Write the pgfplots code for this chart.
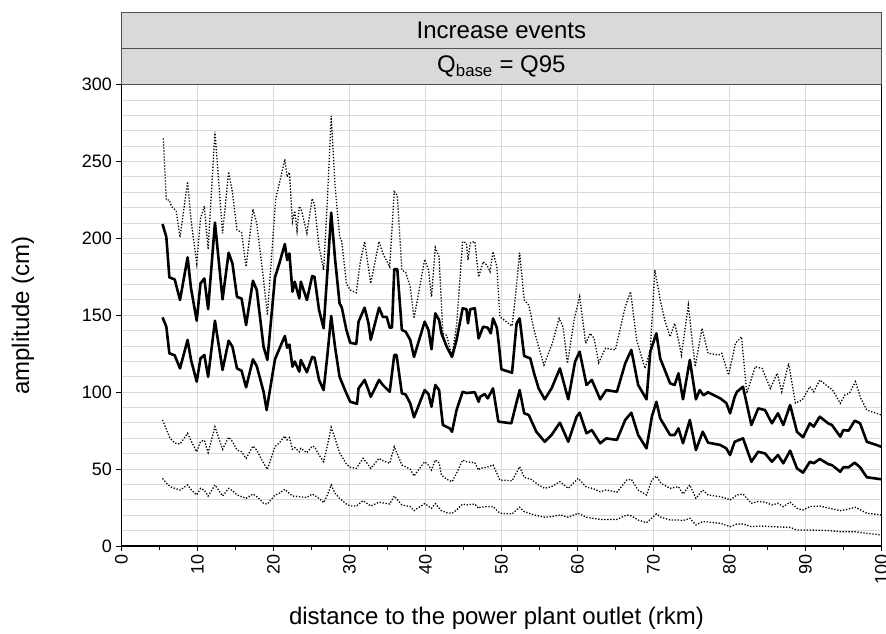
\documentclass[border=0pt]{standalone}
\usepackage{pgfplots}
\pgfplotsset{compat=1.18}
\usepackage{fontspec}
\setmainfont{Liberation Sans}
\definecolor{stripfill}{HTML}{D9D9D9}
\definecolor{stripdraw}{HTML}{505050}
\definecolor{gridc}{HTML}{D9D9D9}
\tikzset{solidser/.style={black, line width=2.6pt, line join=round},
  dotser/.style={black, line width=1.3pt, dash pattern=on 1.3pt off 1.7pt}}
\begin{document}
\begin{tikzpicture}
\begin{axis}[
  width=759.8pt, height=461.3pt, scale only axis,
  xmin=0, xmax=100, ymin=0, ymax=300,
  xtick={0,10,...,100}, minor x tick num=1,
  ytick={0,50,...,300}, minor ytick={10,20,...,290},
  xmajorgrids, ymajorgrids, yminorgrids,
  grid style={gridc, line width=1pt},
  minor y tick style={draw=none},
  tick align=outside, tick pos=left,
  major tick length=5pt, minor tick length=3.5pt,
  tick style={black, line width=0.8pt},
  axis line style={black, line width=1.2pt},
  /pgf/number format/assume math mode=true,
  ticklabel style={font=\fontsize{18}{20}\selectfont},
  yticklabel style={xshift=-1pt},
  xticklabel style={rotate=90, anchor=east},
  xlabel={distance to the power plant outlet (rkm)},
  ylabel={amplitude (cm)},
  label style={font=\fontsize{24}{28}\selectfont},
  xlabel style={at={(axis description cs:0.4935,-0.156)}, anchor=center},
  ylabel style={at={(axis description cs:-0.1296,0.5)}, anchor=center},
]
% upper solid
\addplot[solidser] coordinates {(5.4,209.4)(5.9,201)(6.3,174.7)(7.0,173.4)(7.7,160)(8.7,187.7)(9.15,167.6)(9.9,146.5)(10.4,170.8)(10.9,174)(11.4,154)(12.3,210.3)(13.3,160.4)(14.1,190.7)(14.6,183.8)(15.2,162)(15.8,161)(16.4,143.7)(17.3,172.5)(17.8,166.5)(18.7,129.6)(19.2,121)(20.2,174.7)(20.8,184.2)(21.5,196.4)(21.8,186)(22.1,190.3)(22.5,165.4)(22.8,171.9)(23.4,161)(23.6,171.9)(24.4,160)(25.1,175.6)(25.4,175)(26.0,153.5)(26.6,141.6)(27.1,178.4)(27.6,216.8)(28.1,187)(28.7,157.8)(29.0,155)(29.6,140.5)(30.1,132.2)(30.9,131.4)(31.2,145.9)(32.0,155)(32.5,145)(32.8,134)(33.9,155)(34.4,149)(34.9,149)(35.3,142)(35.6,142)(35.9,180)(36.3,180)(36.9,140.5)(37.4,139.4)(38.0,134)(38.5,123)(39.9,145.9)(40.4,140.5)(40.8,128)(41.3,151.3)(41.8,147)(42.1,138.5)(42.8,129.6)(43.5,123)(44.1,134)(44.9,154.6)(45.4,154)(45.6,144.8)(45.9,154)(46.5,154.6)(47.0,135)(47.6,142.6)(48.2,142)(48.6,138.3)(48.9,148)(49.4,142)(49.6,134)(50.0,114.9)(51.4,112.7)(52.0,144.8)(52.4,148)(53.0,123.6)(53.8,122)(54.3,112.3)(54.9,102.5)(55.7,95.4)(56.6,102.5)(57.7,115.5)(58.8,95.4)(59.7,119.9)(60.3,126.4)(61.2,104.7)(61.9,108)(63.0,95.4)(63.8,101.4)(65.2,100.3)(66.3,118.8)(67.1,127.5)(68.0,104.7)(69.1,95.4)(69.6,126.4)(70.4,138.3)(70.9,122)(72.2,105.8)(72.8,104.7)(73.3,112.3)(73.9,95.4)(74.8,121)(75.6,95.4)(76.1,101.4)(76.6,98)(77.2,100)(78.8,96)(79.6,93)(80.1,86.3)(80.7,97)(81.0,100.3)(81.8,103.6)(82.9,78.7)(83.8,89.5)(84.7,88.4)(85.6,79.8)(86.4,86.3)(87.1,78.7)(88.0,91.7)(88.9,74.3)(89.7,70.7)(90.6,79.8)(91.1,77.6)(91.9,84.1)(93.0,79.8)(93.5,78.7)(94.6,71.1)(95.0,75.4)(95.7,75)(96.5,81.5)(97.2,79.8)(98.1,67.8)(100,64.6)};
% lower solid
\addplot[solidser] coordinates {(5.4,148.7)(5.9,142.6)(6.3,125.3)(7.0,124)(7.7,115.5)(8.7,134)(9.15,121)(9.9,106.9)(10.4,122)(10.9,124.2)(11.4,110)(12.3,146.5)(13.3,114.5)(14.1,133.5)(14.6,129.6)(15.2,115.5)(15.8,114)(16.4,103.2)(17.3,121.4)(17.8,117)(18.7,100.3)(19.1,88.4)(20.2,121.4)(20.8,128.5)(21.5,136.6)(21.8,129)(22.1,131)(22.5,116.6)(22.8,120)(23.4,113.4)(23.6,121)(24.4,113)(25.1,123)(25.4,122.5)(26.0,108)(26.6,101.4)(27.1,124.2)(27.6,149.6)(28.1,129.6)(28.7,110)(29.6,99.3)(30.1,93.8)(31.0,92.5)(31.2,102.5)(32.0,108)(32.5,101.4)(32.8,97)(33.9,108)(34.4,104.7)(35.3,100.3)(35.9,124.2)(36.2,124.2)(36.9,99.3)(37.4,98.5)(38.0,92.8)(38.5,83.7)(39.9,101.4)(40.4,98.8)(40.8,90.6)(41.3,104.7)(41.8,101.4)(42.1,87.3)(42.3,78.7)(43.2,76.5)(43.5,74.3)(44.1,88.4)(44.9,100.3)(45.4,99.5)(46.5,100)(47.0,93.8)(47.2,97.1)(47.8,98.8)(48.2,96)(48.9,102.5)(49.6,80.9)(51.3,79.8)(52.4,101.4)(53.0,86.3)(53.6,85.2)(54.6,74.3)(55.7,67.8)(56.6,72.2)(57.7,80.2)(58.8,67.8)(59.9,84.1)(60.3,86.7)(61.2,73.3)(61.9,75.4)(63.0,66.8)(63.8,70)(65.2,69)(66.3,82)(67.1,86.7)(68.0,72.2)(69.1,63.5)(69.8,84.1)(70.4,93.8)(70.9,83)(72.2,72.2)(72.8,72.2)(73.3,76.5)(73.9,66.8)(74.8,82)(75.6,62.4)(76.5,74.3)(77.2,67.2)(78.8,65.7)(79.6,63.5)(80.1,59.2)(80.7,67.8)(81.3,69)(81.8,70)(82.9,54.8)(83.8,61.3)(84.7,60.2)(85.6,54.8)(86.4,59.2)(87.1,53.8)(88.0,62)(88.9,50.5)(89.7,47.7)(90.6,54.8)(91.1,53.8)(91.9,56.6)(93.0,53.3)(93.5,52.6)(94.6,48.3)(95.0,51.2)(95.7,51.2)(96.5,54.2)(97.2,51.2)(98.1,44.7)(100,43.4)};
% top dotted
\addplot[dotser] coordinates {(5.5,265.1)(5.9,225)(6.3,225)(6.6,220.7)(7.2,218)(7.7,200.7)(8.7,237)(9.15,212)(9.9,183.8)(10.4,213)(10.9,221)(11.4,193)(12.3,269.5)(13.3,203.4)(14.1,243.4)(14.6,230)(15.2,205.5)(15.8,204)(16.4,181.6)(17.3,219)(17.8,209.8)(18.7,173)(19.2,150.2)(20.3,226)(20.8,236.3)(21.5,251.5)(21.8,240)(22.1,243)(22.5,211)(22.8,218)(23.1,205)(23.4,221)(23.7,218)(24.4,203.4)(25.1,226)(25.4,222)(26.0,194.7)(26.6,179.5)(27.1,225)(27.6,279.6)(28.1,235)(28.7,201.2)(29.0,198)(29.6,170.8)(30.1,166.5)(30.9,164.7)(31.4,183.8)(32.0,198)(32.8,170.8)(33.9,198)(34.4,190.3)(35.3,181.6)(35.9,230.4)(36.3,228)(36.9,179.5)(37.4,178)(38.0,168.6)(38.5,148)(39.9,186.4)(40.4,179.5)(40.8,162)(41.3,194.2)(41.8,188)(42.3,138.3)(42.8,137)(43.5,123)(44.1,143.7)(44.9,198)(45.4,197)(45.6,186)(45.9,197)(46.5,198)(47.0,175)(47.6,184.9)(48.1,182.7)(48.5,178.4)(48.9,191.4)(49.4,181.6)(49.8,149.1)(51.4,143)(51.8,160)(52.4,190.7)(53.0,160)(53.6,156.7)(54.3,140.5)(54.9,129.6)(55.6,117.7)(56.7,131.8)(57.6,148)(58.1,142.6)(58.7,118.8)(59.6,148)(60.3,162.1)(61.1,131.8)(61.7,138.3)(62.2,135)(62.8,119.2)(63.7,128.6)(65.0,127.5)(66.3,155.6)(67.0,165.4)(67.8,134)(68.9,115.5)(69.6,127.5)(70.2,179.5)(70.9,160)(71.5,147)(72.2,136.1)(72.8,144.8)(73.3,134)(73.7,124.2)(74.6,156.7)(75.5,116.6)(76.4,141.6)(77.2,125.3)(78.6,124.2)(79.0,125.3)(79.9,111.2)(80.8,131.8)(81.6,136.1)(82.3,99.3)(83.4,116.6)(84.3,115.5)(85.4,102.5)(86.3,112.3)(86.9,100.3)(87.8,118.8)(88.7,93)(89.6,95)(90.6,103.6)(91.1,100.3)(91.9,108)(93.0,103.6)(93.6,101.4)(94.6,92.8)(95.2,98.2)(95.8,99.3)(96.6,106.9)(97.3,96)(98.1,88.4)(100,85.2)};
% middle dotted
\addplot[dotser] coordinates {(5.4,82)(5.9,75.9)(6.4,70)(7.0,67)(7.7,66.3)(8.7,73.3)(9.2,68)(9.9,61.3)(10.4,68)(10.9,68.8)(11.4,60.7)(12.3,77.6)(13.3,62.9)(14.1,70.7)(14.6,68)(15.2,62.4)(15.8,61.3)(16.4,57)(17.3,65)(17.8,62.4)(18.7,53.8)(19.2,49.9)(20.2,64.6)(20.8,67.2)(21.5,71.5)(21.8,69)(22.1,70.5)(22.5,63)(22.8,64)(23.4,61.3)(23.6,63.5)(24.4,60.7)(25.1,65)(25.4,64.5)(26.0,59.2)(26.6,54.8)(27.1,65.4)(27.6,77.2)(28.1,70)(28.7,60.7)(29.6,53.3)(30.1,51.2)(30.9,50.5)(31.8,57)(32.3,54)(32.8,50.5)(33.9,57)(34.4,55.5)(35.3,53.8)(35.9,64.6)(36.9,52.7)(37.4,51.5)(38.0,49.9)(38.5,45.5)(39.9,54.8)(40.4,52.6)(40.8,49.4)(41.3,55.9)(41.8,54)(42.1,46.2)(42.8,43.4)(43.5,41.8)(44.1,47.3)(44.9,55.9)(45.4,54.8)(46.5,54.2)(47.0,49.4)(47.2,50.5)(48.1,51.2)(48.9,52.7)(49.8,42.9)(51.4,42.4)(52.4,51.6)(53.0,44.7)(53.9,43.4)(54.9,39.7)(55.7,37.5)(56.6,38.6)(57.7,41.8)(58.8,37.5)(60.1,44)(61.2,38.2)(62.0,37.5)(63.0,35.3)(63.8,36.5)(65.2,35)(66.5,42.9)(67.1,43.4)(68.0,36.4)(69.1,33.2)(69.8,42.9)(70.4,45.5)(71.0,40.8)(72.2,37.5)(73.3,38.6)(73.9,33.8)(74.8,39.7)(75.6,31)(76.5,36.4)(77.2,33.2)(78.8,32.1)(79.6,31)(80.1,29.9)(81.0,33.2)(81.8,33.8)(82.9,27.8)(83.8,28.9)(84.7,28.5)(85.6,26.7)(86.4,27.8)(87.1,25.6)(88.0,28.5)(88.9,24.5)(89.7,23.4)(90.6,25.6)(91.9,26)(93.2,24.5)(94.6,23)(95.5,23.8)(96.6,25.2)(98.1,21.3)(100,20.2)};
% bottom dotted
\addplot[dotser] coordinates {(5.4,44)(5.9,41)(6.4,38.6)(7.0,37.5)(7.7,36.4)(8.7,39.7)(9.2,36.4)(9.9,33.2)(10.4,37.5)(10.9,36.4)(11.4,32.5)(12.3,39.7)(13.3,32.5)(14.1,37.5)(14.6,36)(15.2,33.2)(15.8,32.1)(16.4,31)(17.3,33.8)(17.8,32.1)(18.7,27.8)(19.2,27.3)(20.2,33.2)(20.8,34.3)(21.5,36.9)(21.8,35.4)(22.5,32.5)(23.4,32.1)(24.4,31.6)(25.1,33.8)(26.0,31)(26.6,28.2)(27.1,33.2)(27.6,39.7)(28.1,34.3)(28.7,31)(29.6,27.3)(30.1,26)(30.9,26)(31.8,29.5)(32.8,26)(33.9,28.5)(35.3,27.3)(35.9,32.5)(36.9,26.7)(38.0,25.6)(38.5,23)(39.9,27.6)(40.8,24.5)(41.3,27.6)(42.1,23)(42.8,21.7)(43.5,21.3)(44.1,23.4)(44.9,27.3)(45.4,26.7)(46.5,27.3)(47.0,24.5)(47.2,25.2)(48.1,25.6)(48.9,25.6)(49.8,21.3)(51.4,20.9)(52.4,25.2)(53.0,22.4)(54.3,20.2)(55.7,18.7)(56.6,19.1)(57.7,20.2)(58.8,18.7)(60.1,21.3)(61.2,18.7)(63.0,17.3)(65.2,17.3)(66.5,20.2)(67.1,19.6)(68.0,16.9)(69.1,15.2)(70.4,20.9)(71.0,18.7)(72.2,16.9)(73.3,16.9)(73.9,16.5)(74.8,18)(75.6,13.7)(76.5,15.9)(78.8,14.8)(80.1,12.6)(81.0,14.3)(81.8,14.3)(82.9,12.6)(84.0,13)(85.6,12.6)(88.0,12.1)(88.9,10.4)(90.6,10.4)(93.2,10)(94.6,9.3)(96.6,9.3)(98.1,8.2)(100,7.2)};
\end{axis}
\draw[fill=stripfill, draw=stripdraw, line width=1pt] (current axis.north west) rectangle ([yshift=36pt]current axis.north east);
\draw[fill=stripfill, draw=stripdraw, line width=1pt] ([yshift=36pt]current axis.north west) rectangle ([yshift=72pt]current axis.north east);
\node[font=\fontsize{24}{28}\selectfont] at ([yshift=54pt]current axis.north) {Increase events};
\node[font=\fontsize{24}{28}\selectfont] at ([yshift=18pt]current axis.north) {Q\textsubscript{base} = Q95};
\pgfresetboundingbox
\path ([xshift=-121.5pt, yshift=-87pt]current axis.south west) rectangle ++(886pt,633pt);
\end{tikzpicture}
\end{document}
